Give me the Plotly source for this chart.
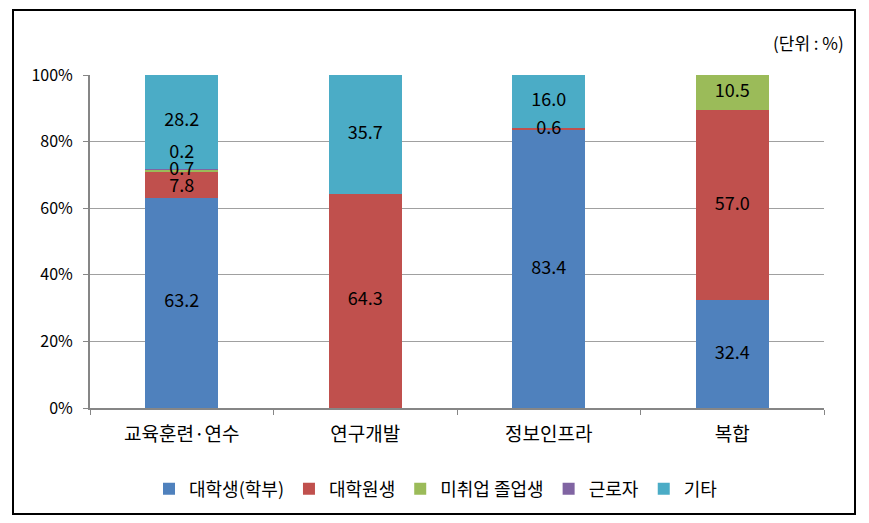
import plotly.graph_objects as go
import numpy as np

categories = ["교육훈련·연수", "연구개발", "정보인프라", "복합"]
series_names = ["대학생(학부)", "대학원생", "미취업 졸업생", "근로자", "기타"]
undergrad = [63.2, 0.0, 83.4, 32.4]
graduate = [7.8, 64.3, 0.6, 57.0]
unemployed_grad = [0.7, 0.0, 0.0, 10.5]
worker = [0.2, 0.0, 0.0, 0.0]
other = [28.2, 35.7, 16.0, 0.0]
y_ticks = [0, 20, 40, 60, 80, 100]
y_tick_labels = ["0%", "20%", "40%", "60%", "80%", "100%"]

colors = ["#4F81BD", "#C0504D", "#9BBB59", "#8064A2", "#4BACC6"]
series = [undergrad, graduate, unemployed_grad, worker, other]
FONT = "Noto Sans CJK KR"

# screen geometry of the plot area (page body has an 8px margin)
PX0, PX1, PY0, PY1 = 90, 824, 75, 408
PW, PH = PX1 - PX0, PY1 - PY0

fig = go.Figure()
for name, vals, col in zip(series_names, series, colors):
    fig.add_trace(go.Bar(
        x=categories, y=vals, name=name,
        marker=dict(color=col, line=dict(width=0)),
        hoverinfo="skip",
    ))

# data labels at segment centres (tiny segments nudged to avoid overlap)
arr = np.array(series)
cum = np.cumsum(arr, axis=0)
lab_x, lab_y, lab_t = [], [], []
for si in range(arr.shape[0]):
    for ci, cat in enumerate(categories):
        v = arr[si, ci]
        if v <= 0:
            continue
        mid = cum[si, ci] - v / 2
        if si == 3 and v < 1:
            mid += 4.5
        if si == 1 and v < 10 and arr[2, ci] > 0:
            mid -= 0.8
        lab_x.append(cat)
        lab_y.append(mid)
        lab_t.append(f"{v:.1f}")
fig.add_trace(go.Scatter(
    x=lab_x, y=lab_y, text=lab_t, mode="text",
    textfont=dict(family=FONT, size=18, color="#000000"),
    showlegend=False, hoverinfo="skip",
))

fig.update_layout(
    width=861, height=515,
    barmode="stack", bargap=0.6,
    plot_bgcolor="white", paper_bgcolor="white",
    margin=dict(l=82, r=45, t=67, b=115),
    font=dict(family=FONT, size=16, color="#000000"),
    legend=dict(orientation="h", x=(436 - PX0) / PW, xanchor="center", y=(PY1 - 489) / PH, yanchor="middle",
                font=dict(family=FONT, size=18), itemwidth=30, traceorder="normal"),
    xaxis=dict(showline=True, linecolor="#868686", linewidth=2,
               ticks="outside", tickson="boundaries", ticklen=5, tickcolor="#868686",
               tickfont=dict(family=FONT, size=19), ticklabelstandoff=8, fixedrange=True),
    yaxis=dict(range=[0, 100], tickvals=y_ticks, ticktext=y_tick_labels,
               showline=True, linecolor="#868686", linewidth=2,
               ticks="outside", ticklen=5, tickcolor="#868686",
               showgrid=True, gridcolor="#A0A0A0", gridwidth=1,
               tickfont=dict(family=FONT, size=16), ticklabelstandoff=7, zeroline=False),
    shapes=[dict(type="rect", xref="paper", yref="paper",
                 x0=(13 - PX0) / PW, x1=(855 - PX0) / PW,
                 y0=(PY1 - 514) / PH, y1=(PY1 - 10) / PH,
                 line=dict(color="black", width=2), fillcolor="rgba(0,0,0,0)")],
    annotations=[dict(text="(단위 : %)", xref="paper", yref="paper",
                      x=(846 - PX0) / PW, xanchor="right", y=(PY1 - 43) / PH, yanchor="middle",
                      showarrow=False, font=dict(family=FONT, size=17))],
)

fig.write_html("out.html")
